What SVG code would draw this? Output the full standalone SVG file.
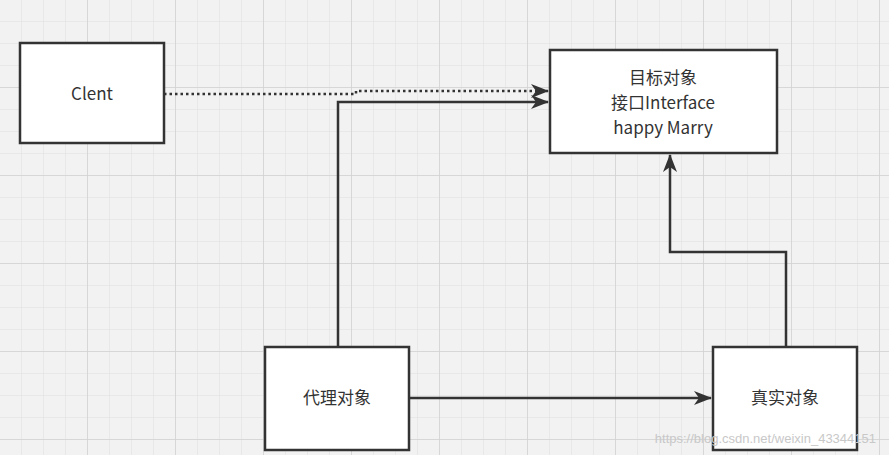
<svg xmlns="http://www.w3.org/2000/svg" width="889" height="455" viewBox="0 0 889 455">
<defs>
<pattern id="minor" width="22" height="22" patternUnits="userSpaceOnUse"><path d="M22 0V22H0" fill="none" stroke="#dedede" stroke-width="1"/></pattern>
<pattern id="major" width="88" height="88" patternUnits="userSpaceOnUse"><rect width="88" height="88" fill="url(#minor)"/><path d="M88 0V88H0" fill="none" stroke="#d2d2d2" stroke-width="1.5"/></pattern>
<marker id="arr" markerWidth="18" markerHeight="14" refX="17" refY="7" orient="auto" markerUnits="userSpaceOnUse"><path d="M0 0L18 7L0 14L5 7Z" fill="#333"/></marker>
</defs>
<style>
.box{fill:#fff;stroke:#333;stroke-width:2.5}
.t{font-family:"Noto Sans CJK SC","Noto Sans",sans-serif;font-size:17px;fill:#333;text-anchor:middle}
.c{fill:none;stroke:#333;stroke-width:2.5}
</style>
<rect width="889" height="455" fill="#f2f2f2"/>
<rect width="889" height="455" fill="url(#major)"/>
<g id="connectors">
<path class="c" d="M164 94H356V91H548" stroke-dasharray="2.5 3" marker-end="url(#arr)"/>
<path class="c" d="M338 347V102H548" marker-end="url(#arr)"/>
<path class="c" d="M409 398H711" marker-end="url(#arr)"/>
<path class="c" d="M786 347V252H670V155" marker-end="url(#arr)"/>
</g>
<g id="client"><rect class="box" x="20" y="43" width="144" height="100"/><text class="t" x="92" y="100">Clent</text></g>
<g id="target"><rect class="box" x="550" y="50" width="227" height="103"/><text class="t" x="663" y="84">目标对象</text><text class="t" x="663" y="109">接口Interface</text><text class="t" x="663" y="134">happy Marry</text></g>
<g id="proxy"><rect class="box" x="265" y="347" width="144" height="103"/><text class="t" x="337" y="404">代理对象</text></g>
<g id="real"><rect class="box" x="713" y="347" width="144" height="103"/><text class="t" x="785" y="404">真实对象</text></g>
<text x="876" y="443" font-family="Liberation Sans,sans-serif" font-size="13" fill="#c8c8c8" text-anchor="end">https://blog.csdn.net/weixin_43344151</text>
</svg>
